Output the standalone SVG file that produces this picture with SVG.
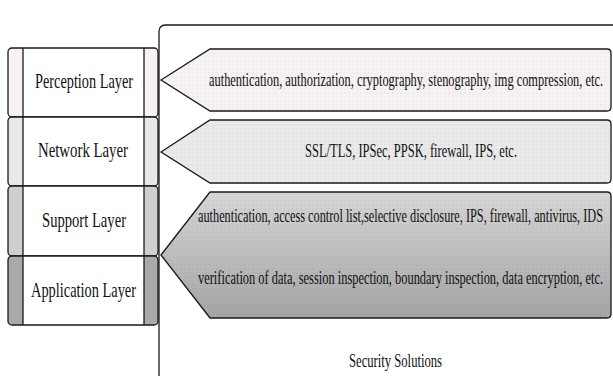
<svg xmlns="http://www.w3.org/2000/svg" width="613" height="376" viewBox="0 0 613 376">
  <defs>
    <pattern id="dots" width="4" height="4" patternUnits="userSpaceOnUse">
      <circle cx="1" cy="1" r="0.5" fill="#000" fill-opacity="0.12"/>
    </pattern>
    <linearGradient id="g3" x1="0" y1="0" x2="0" y2="1">
      <stop offset="0" stop-color="#d6d6d6"/>
      <stop offset="1" stop-color="#a4a4a4"/>
    </linearGradient>
  </defs>
  <style>
    .box { fill: #fff; stroke: #1a1a1a; stroke-width: 1.3; }
    .line { stroke: #1a1a1a; stroke-width: 1.3; fill: none; }
    .arrow { stroke: #1a1a1a; stroke-width: 1.3; }
    .lbl { font-family: "Liberation Serif", "Times New Roman", serif; font-size: 21px; fill: #111; }
    .txt { font-family: "Liberation Serif", "Times New Roman", serif; font-size: 18px; fill: #111; }
  </style>

  <rect width="613" height="376" fill="#fff"/>

  <!-- Security solutions container -->
  <g id="security-solutions">
    <rect x="159" y="25" width="470" height="380" rx="6" class="box"/>
    <text class="txt" transform="translate(349,367) scale(0.7,1)" textLength="132.9" lengthAdjust="spacingAndGlyphs">Security Solutions</text>
  </g>

  <!-- Layer stack; labels are set in a condensed face via horizontal scaling -->
  <g id="perception-layer">
    <rect x="8" y="48" width="150" height="69" rx="4" fill="#f7f1f3"/>
    <rect x="23" y="48" width="121" height="69" fill="#fff"/>
    <rect x="8" y="48" width="150" height="69" rx="4" class="line"/>
    <line x1="23" y1="48" x2="23" y2="117" class="line"/>
    <line x1="144" y1="48" x2="144" y2="117" class="line"/>
    <text class="lbl" transform="translate(35,88) scale(0.75,1)" textLength="130.7" lengthAdjust="spacingAndGlyphs">Perception Layer</text>
  </g>
  <g id="network-layer">
    <rect x="8" y="117" width="150" height="69" rx="4" fill="#e8e8e8"/>
    <rect x="23" y="117" width="121" height="69" fill="#fff"/>
    <rect x="8" y="117" width="150" height="69" rx="4" class="line"/>
    <line x1="23" y1="117" x2="23" y2="186" class="line"/>
    <line x1="144" y1="117" x2="144" y2="186" class="line"/>
    <text class="lbl" transform="translate(38,157) scale(0.75,1)" textLength="120" lengthAdjust="spacingAndGlyphs">Network Layer</text>
  </g>
  <g id="support-layer">
    <rect x="8" y="186" width="150" height="70" rx="4" fill="#cfcfcf"/>
    <rect x="23" y="186" width="121" height="70" fill="#fff"/>
    <rect x="8" y="186" width="150" height="70" rx="4" class="line"/>
    <line x1="23" y1="186" x2="23" y2="256" class="line"/>
    <line x1="144" y1="186" x2="144" y2="256" class="line"/>
    <text class="lbl" transform="translate(42,227) scale(0.75,1)" textLength="112" lengthAdjust="spacingAndGlyphs">Support Layer</text>
  </g>
  <g id="application-layer">
    <rect x="8" y="256" width="150" height="69" rx="4" fill="#a9a9a9"/>
    <rect x="23" y="256" width="121" height="69" fill="#fff"/>
    <rect x="8" y="256" width="150" height="69" rx="4" class="line"/>
    <line x1="23" y1="256" x2="23" y2="325" class="line"/>
    <line x1="144" y1="256" x2="144" y2="325" class="line"/>
    <text class="lbl" transform="translate(31,297) scale(0.75,1)" textLength="140" lengthAdjust="spacingAndGlyphs">Application Layer</text>
  </g>

  <!-- Solution arrows pointing to the layers -->
  <g id="connectors">
    <g id="perception-solutions">
      <path class="arrow" fill="#f6f1f3" d="M161,80 L210,49 L607,49 Q611,49 611,53 L611,107 Q611,111 607,111 L210,111 Z"/>
      <path fill="url(#dots)" d="M161,80 L210,49 L607,49 Q611,49 611,53 L611,107 Q611,111 607,111 L210,111 Z"/>
      <text class="txt" transform="translate(209,86) scale(0.7,1)" textLength="562.9" lengthAdjust="spacingAndGlyphs">authentication, authorization, cryptography, stenography, img compression, etc.</text>
    </g>
    <g id="network-solutions">
      <path class="arrow" fill="#e9e9e9" d="M161,152 L210,120 L607,120 Q611,120 611,124 L611,179 Q611,183 607,183 L210,183 Z"/>
      <path fill="url(#dots)" d="M161,152 L210,120 L607,120 Q611,120 611,124 L611,179 Q611,183 607,183 L210,183 Z"/>
      <text class="txt" transform="translate(305,157) scale(0.7,1)" textLength="302.9" lengthAdjust="spacingAndGlyphs">SSL/TLS, IPSec, PPSK, firewall, IPS, etc.</text>
    </g>
    <g id="support-application-solutions">
      <path class="arrow" fill="url(#g3)" d="M161,255 L210,192 L607,192 Q611,192 611,196 L611,314 Q611,318 607,318 L210,318 Z"/>
      <path fill="url(#dots)" d="M161,255 L210,192 L607,192 Q611,192 611,196 L611,314 Q611,318 607,318 L210,318 Z"/>
      <text class="txt" transform="translate(198,222) scale(0.7,1)" textLength="578.6" lengthAdjust="spacingAndGlyphs">authentication, access control list,selective disclosure, IPS, firewall, antivirus, IDS</text>
      <text class="txt" transform="translate(198,284) scale(0.7,1)" textLength="578.6" lengthAdjust="spacingAndGlyphs">verification of data, session inspection, boundary inspection, data encryption, etc.</text>
    </g>
  </g>
</svg>
